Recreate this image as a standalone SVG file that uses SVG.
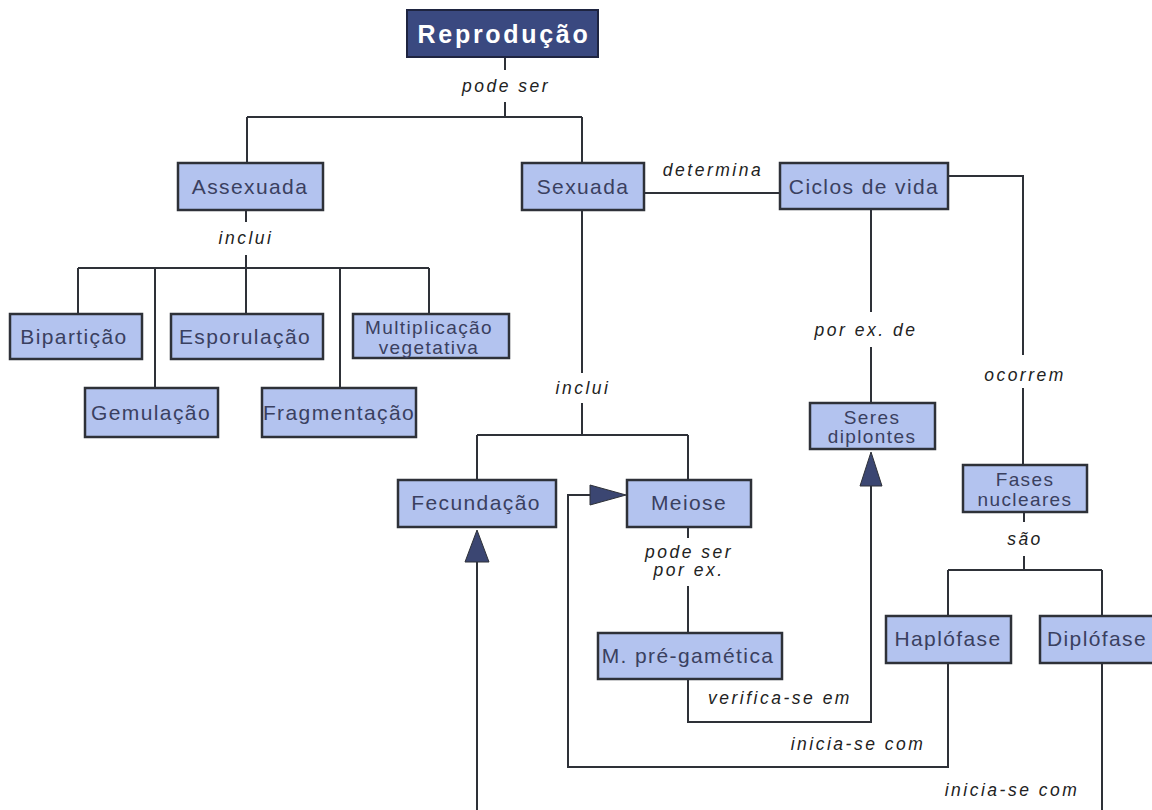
<svg xmlns="http://www.w3.org/2000/svg" width="1152" height="810" viewBox="0 0 1152 810">
<style>
.bg{fill:#ffffff}
.node rect{fill:#b3c3ef;stroke:#2e3138;stroke-width:2.5}
.node text{font-family:"Liberation Sans",Arial,sans-serif;font-size:21px;fill:#3a4060;text-anchor:middle;letter-spacing:1.4px}
#reproducao rect{fill:#3a4980;stroke:#1e2440;stroke-width:2}
#reproducao text{font-size:25px;font-weight:bold;fill:#ffffff;letter-spacing:2.7px}
.conn line,.conn polyline{stroke:#2e3138;stroke-width:2;fill:none}
.conn polygon{fill:#3b4672;stroke:#2e3138;stroke-width:1}
.lbl{font-family:"Liberation Sans",Arial,sans-serif;font-size:17.5px;font-style:italic;fill:#222;text-anchor:middle;letter-spacing:2.5px}
</style>
<rect class="bg" width="1152" height="810"/>
<g id="connectors" class="conn">
  <line x1="505" y1="57" x2="505" y2="70"/>
  <line x1="505" y1="102" x2="505" y2="117"/>
  <line x1="247" y1="117" x2="582" y2="117"/>
  <line x1="247" y1="117" x2="247" y2="163"/>
  <line x1="582" y1="117" x2="582" y2="163"/>
  <line x1="246" y1="210" x2="246" y2="222"/>
  <line x1="246" y1="255" x2="246" y2="268"/>
  <line x1="78" y1="268" x2="429" y2="268"/>
  <line x1="78" y1="268" x2="78" y2="314"/>
  <line x1="155" y1="268" x2="155" y2="388"/>
  <line x1="246" y1="268" x2="246" y2="314"/>
  <line x1="340" y1="268" x2="340" y2="388"/>
  <line x1="429" y1="268" x2="429" y2="314"/>
  <line x1="644" y1="193" x2="780" y2="193"/>
  <line x1="582" y1="210" x2="582" y2="373"/>
  <line x1="582" y1="403" x2="582" y2="435"/>
  <line x1="477" y1="435" x2="688" y2="435"/>
  <line x1="477" y1="435" x2="477" y2="480"/>
  <line x1="688" y1="435" x2="688" y2="480"/>
  <line x1="871" y1="209" x2="871" y2="312"/>
  <line x1="871" y1="347" x2="871" y2="403"/>
  <polyline points="948,176 1023,176 1023,355"/>
  <line x1="1023" y1="388" x2="1023" y2="465"/>
  <line x1="1024" y1="512" x2="1024" y2="522"/>
  <line x1="1024" y1="556" x2="1024" y2="570"/>
  <line x1="948" y1="570" x2="1102" y2="570"/>
  <line x1="948" y1="570" x2="948" y2="616"/>
  <line x1="1102" y1="570" x2="1102" y2="616"/>
  <line x1="688" y1="527" x2="688" y2="538"/>
  <line x1="688" y1="586" x2="688" y2="633"/>
  <polyline points="688,679 688,722 871,722 871,486"/>
  <polygon points="871,452 860,486 882,486"/>
  <polyline points="948,663 948,767 568,767 568,495 590,495"/>
  <polygon points="626,495 590,485 590,505"/>
  <line x1="1102" y1="663" x2="1102" y2="810"/>
  <line x1="477" y1="810" x2="477" y2="562"/>
  <polygon points="477,530 465,562 489,562"/>
</g>
<g id="labels">
  <text class="lbl" x="506" y="92">pode ser</text>
  <text class="lbl" x="246" y="244">inclui</text>
  <text class="lbl" x="713" y="176">determina</text>
  <text class="lbl" x="583" y="394">inclui</text>
  <text class="lbl" x="866" y="336">por ex. de</text>
  <text class="lbl" x="1025" y="381">ocorrem</text>
  <text class="lbl" x="1025" y="545">são</text>
  <text class="lbl" x="689" y="558">pode ser</text>
  <text class="lbl" x="689" y="576">por ex.</text>
  <text class="lbl" x="780" y="704">verifica-se em</text>
  <text class="lbl" x="858" y="750">inicia-se com</text>
  <text class="lbl" x="1012" y="796">inicia-se com</text>
</g>
<g id="reproducao" class="node"><rect x="407" y="10" width="191" height="47"/><text x="504" y="43">Reprodução</text></g>
<g id="assexuada" class="node"><rect x="178" y="163" width="145" height="47"/><text x="250" y="194">Assexuada</text></g>
<g id="sexuada" class="node"><rect x="522" y="163" width="122" height="47"/><text x="583" y="194">Sexuada</text></g>
<g id="ciclos" class="node"><rect x="780" y="163" width="168" height="46"/><text x="864" y="194">Ciclos de vida</text></g>
<g id="bipartição" class="node"><rect x="10" y="314" width="132" height="45"/><text x="74" y="344">Bipartição</text></g>
<g id="esporulação" class="node"><rect x="171" y="314" width="152" height="45"/><text x="245" y="344">Esporulação</text></g>
<g id="multiplicação" class="node"><rect x="353" y="314" width="156" height="44"/><text x="429" y="334" style="font-size:19px">Multiplicação</text><text x="429" y="354" style="font-size:19px">vegetativa</text></g>
<g id="gemulação" class="node"><rect x="85" y="388" width="133" height="49"/><text x="151" y="420">Gemulação</text></g>
<g id="fragmentação" class="node"><rect x="262" y="388" width="154" height="49"/><text x="339" y="420">Fragmentação</text></g>
<g id="seres" class="node"><rect x="810" y="403" width="125" height="46"/><text x="872" y="424" style="font-size:19px">Seres</text><text x="872" y="443" style="font-size:19px">diplontes</text></g>
<g id="fecundação" class="node"><rect x="398" y="480" width="158" height="47"/><text x="476" y="510">Fecundação</text></g>
<g id="meiose" class="node"><rect x="627" y="480" width="124" height="47"/><text x="689" y="510">Meiose</text></g>
<g id="fases" class="node"><rect x="963" y="465" width="124" height="47"/><text x="1025" y="486" style="font-size:19px">Fases</text><text x="1025" y="506" style="font-size:19px">nucleares</text></g>
<g id="pregametica" class="node"><rect x="598" y="633" width="184" height="46"/><text x="688" y="663">M. pré-gamética</text></g>
<g id="haplofase" class="node"><rect x="886" y="616" width="125" height="47"/><text x="948" y="646">Haplófase</text></g>
<g id="diplofase" class="node"><rect x="1040" y="616" width="116" height="47"/><text x="1097" y="646">Diplófase</text></g>
</svg>
